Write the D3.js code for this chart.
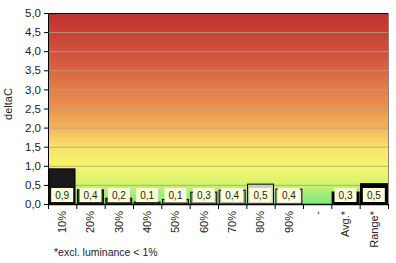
<!DOCTYPE html>
<html><head><meta charset="utf-8">
<script src="https://cdn.jsdelivr.net/npm/d3@7"></script>
<style>body{margin:0;background:#fff}svg{display:block;font-family:Arial,"Liberation Sans",sans-serif}</style>
</head><body><svg id="c" width="396" height="263"></svg>
<script>
const categories = ["10%","20%","30%","40%","50%","60%","70%","80%","90%","-","Avg.*","Range*"];
const values = [0.92,0.37,0.15,0.05,0.12,0.31,0.36,0.52,0.39,null,0.30,0.52];
const labels = ["0,9","0,4","0,2","0,1","0,1","0,3","0,4","0,5","0,4","","0,3","0,5"];
const fills = ["#1a1a1a","#333333","#4d4d4d","#666666","#808080","#999999","#b3b3b3","#cccccc","#e6e6e6",null,"#000000","#000000"];
const yTicks = [0,0.5,1,1.5,2,2.5,3,3.5,4,4.5,5];

const svg = d3.select("#c");
const m = {l:48, r:8, t:13, b:59};
const W = 396, H = 263;
const x = d3.scaleBand().domain(categories).range([m.l, W-m.r]).paddingInner(0.05).paddingOuter(0.02);
const xb = d3.scaleBand().domain(categories).range([m.l, W-m.r]);
const y = d3.scaleLinear().domain([0,5]).range([H-m.b, m.t]);

const defs = svg.append("defs");
const g = defs.append("linearGradient").attr("id","bg").attr("x1",0).attr("y1",1).attr("x2",0).attr("y2",0);
[[0,"#7fe880"],[0.06,"#a8ee7a"],[0.12,"#dcf46e"],[0.2,"#f6f66e"],[0.3,"#f8e26a"],[0.4,"#f2b45e"],[0.5,"#ea944e"],[0.62,"#e07a48"],[0.75,"#d45a40"],[0.88,"#c84436"],[1,"#c0302e"]]
 .forEach(([o,c])=>g.append("stop").attr("offset",o).attr("stop-color",c));

svg.append("rect").attr("x",m.l).attr("y",m.t).attr("width",W-m.r-m.l).attr("height",H-m.b-m.t).attr("fill","url(#bg)");

svg.append("g").selectAll("line").data(yTicks.filter(d=>d>0&&d<5)).join("line")
  .attr("x1",m.l).attr("x2",W-m.r).attr("y1",d=>y(d)+0.5).attr("y2",d=>y(d)+0.5)
  .attr("stroke","#b4a08a").attr("stroke-opacity",0.85).attr("stroke-width",1);

// bars
svg.append("g").selectAll("rect").data(categories.map((c,i)=>({c,v:values[i],f:fills[i]})).filter(d=>d.v!=null)).join("rect")
  .attr("x",d=>x(d.c)+0.5).attr("width",x.bandwidth()-1)
  .attr("y",d=>y(d.v)).attr("height",d=>y(0)-y(d.v))
  .attr("fill",d=>d.f).attr("stroke","#000").attr("stroke-width",d=>d.f==="#000000"?2:1);

// label boxes
const lb = svg.append("g").selectAll("g").data(categories.map((c,i)=>({c,l:labels[i]})).filter(d=>d.l)).join("g")
  .attr("transform",d=>`translate(${xb(d.c)+xb.bandwidth()/2},${y(0)-9})`);
lb.append("rect").attr("x",-11).attr("y",-7).attr("width",22).attr("height",14).attr("fill","#fefed8");
lb.append("text").attr("text-anchor","middle").attr("dy","0.35em").attr("font-size",10).attr("fill","#222").text(d=>d.l);

// frame
svg.append("line").attr("x1",m.l).attr("x2",W-m.r).attr("y1",m.t+0.5).attr("y2",m.t+0.5).attr("stroke","#000");
svg.append("line").attr("x1",W-m.r+0.5).attr("x2",W-m.r+0.5).attr("y1",m.t).attr("y2",H-m.b).attr("stroke","#888");

// y axis
const ya = svg.append("g").attr("transform",`translate(${m.l},0)`)
  .call(d3.axisLeft(y).tickValues(yTicks).tickSize(4).tickFormat(d=>d3.format(".1f")(d).replace(".",",")));
ya.select(".domain").attr("stroke","#000").attr("d",`M0.5,${m.t}V${H-m.b}`);
ya.selectAll("text").attr("font-size",11.5).attr("fill","#222").attr("font-family","Arial,'Liberation Sans',sans-serif");

// x axis
const xa = svg.append("g").attr("transform",`translate(0,${H-m.b})`)
  .call(d3.axisBottom(xb).tickSize(0).tickFormat(d=>d));
xa.select(".domain").attr("stroke","#000").attr("stroke-width",1.5);
xa.selectAll(".tick line").remove();
svg.append("g").selectAll("line").data(categories.concat(["end"])).join("line")
  .attr("x1",(d,i)=>m.l+i*xb.bandwidth()+0.5).attr("x2",(d,i)=>m.l+i*xb.bandwidth()+0.5)
  .attr("y1",H-m.b).attr("y2",H-m.b+5).attr("stroke","#000");
xa.selectAll("text").attr("font-size",11).attr("fill","#222").attr("font-family","Arial,'Liberation Sans',sans-serif")
  .attr("transform","rotate(-90)").attr("text-anchor","end").attr("x",-7).attr("y",0).attr("dy","0.35em");

svg.append("text").attr("transform","translate(12,104) rotate(-90)").attr("text-anchor","middle")
  .attr("font-size",11).attr("fill","#222").text("deltaC");
svg.append("text").attr("x",54).attr("y",256).attr("font-size",10.5).attr("fill","#222").text("*excl. luminance < 1%");
</script></body></html>
